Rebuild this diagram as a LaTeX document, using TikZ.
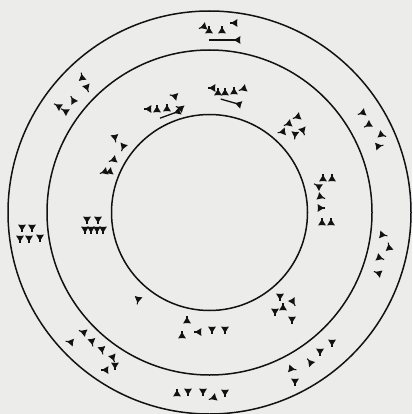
\documentclass[tikz,border=0pt]{standalone}
\usepackage{tikz}
\usepackage{xcolor}
\definecolor{scanpaper}{RGB}{236,236,234}
\definecolor{scanink}{RGB}{18,18,18}

\begin{document}
\begin{tikzpicture}[
  x=1pt, y=1pt,
  ring/.style={draw=scanink, line width=1.5pt},
  wedge/.pic={
    \fill[scanink] (-3.4,3.9) -- (-3,0) -- (-3.4,-3.9) -- (3,0) -- cycle;
    \draw[scanink, line width=1.1pt] (2,0) -- (4.4,0);
  },
  long wedge/.pic={
    \fill[scanink] (-3.4,3.9) -- (-3,0) -- (-3.4,-3.9) -- (3,0) -- cycle;
    \draw[scanink, line width=1.3pt] (2,0) -- (#1,0);
  }
]
\fill[scanpaper] (0,0) rectangle (412,-414);
\useasboundingbox (0,0) rectangle (412,-414);
\coordinate (centre) at (209.5,-212.5);
% the three rings
\draw[ring] (centre) circle[radius=98];
\draw[ring] (centre) circle[radius=162.5];
\draw[ring] (centre) circle[radius=201.5];
% single wedges: x / y (from top) / direction of the tail
\foreach \x/\y/\a in {
  203/27/200, 209/30/90, 222/30/90, 234/23/180,
  82/77/100, 87/88/-70, 73/100/120, 58/106/150, 65/111/150,
  148/109/180, 157/109/90, 167/108/90, 180/108/160, 174/96/165,
  212/88/180, 218/92/90, 225/92/90, 234/91/90, 243/89/200,
  297/117/200, 288/124/200, 282/132/190, 295/135/-95, 303/131/-70,
  362/113/200, 368/125/210, 382/135/-20, 379/146/10,
  115/138/-80, 123/147/-110, 113/160/200, 104/172/200, 109/172/200,
  323/178/90, 332/178/90, 318/186/150, 321/197/-20, 321/208/0,
  322/222/90, 331/222/90,
  383/235/-10, 389/247/100, 380/258/-20, 378/273/160,
  22/228/-90, 32/228/-90, 20/239/-90, 29/239/-90, 40/238/-90,
  87/220/-90, 98/220/-90, 85/230/-90, 91/230/-90, 97/230/-90, 103/230/-90,
  138/300/-100,
  280/297/-90, 293/302/-60, 283/307/90, 275/312/-90, 292/320/-90,
  187/320/90, 182/335/90, 198/332/180, 212/330/-90, 225/330/-90,
  83/332/160, 70/342/170, 92/342/-80, 102/350/-80, 113/358/-70,
  105/370/180, 115/366/-90,
  332/343/-90, 320/352/-90, 310/362/130, 292/369/-10, 295/382/-90,
  177/393/90, 188/392/-90, 203/392/-90, 213/398/200, 225/393/-90}
  \pic[rotate=\a] at (\x,-\y) {wedge};
% long wedges under the groups
\pic[rotate=180] at (237,-40) {long wedge=28};
\pic[rotate=200] at (177,-112) {long wedge=18};
\pic[rotate=164] at (238,-104) {long wedge=18};
\end{tikzpicture}
\end{document}
